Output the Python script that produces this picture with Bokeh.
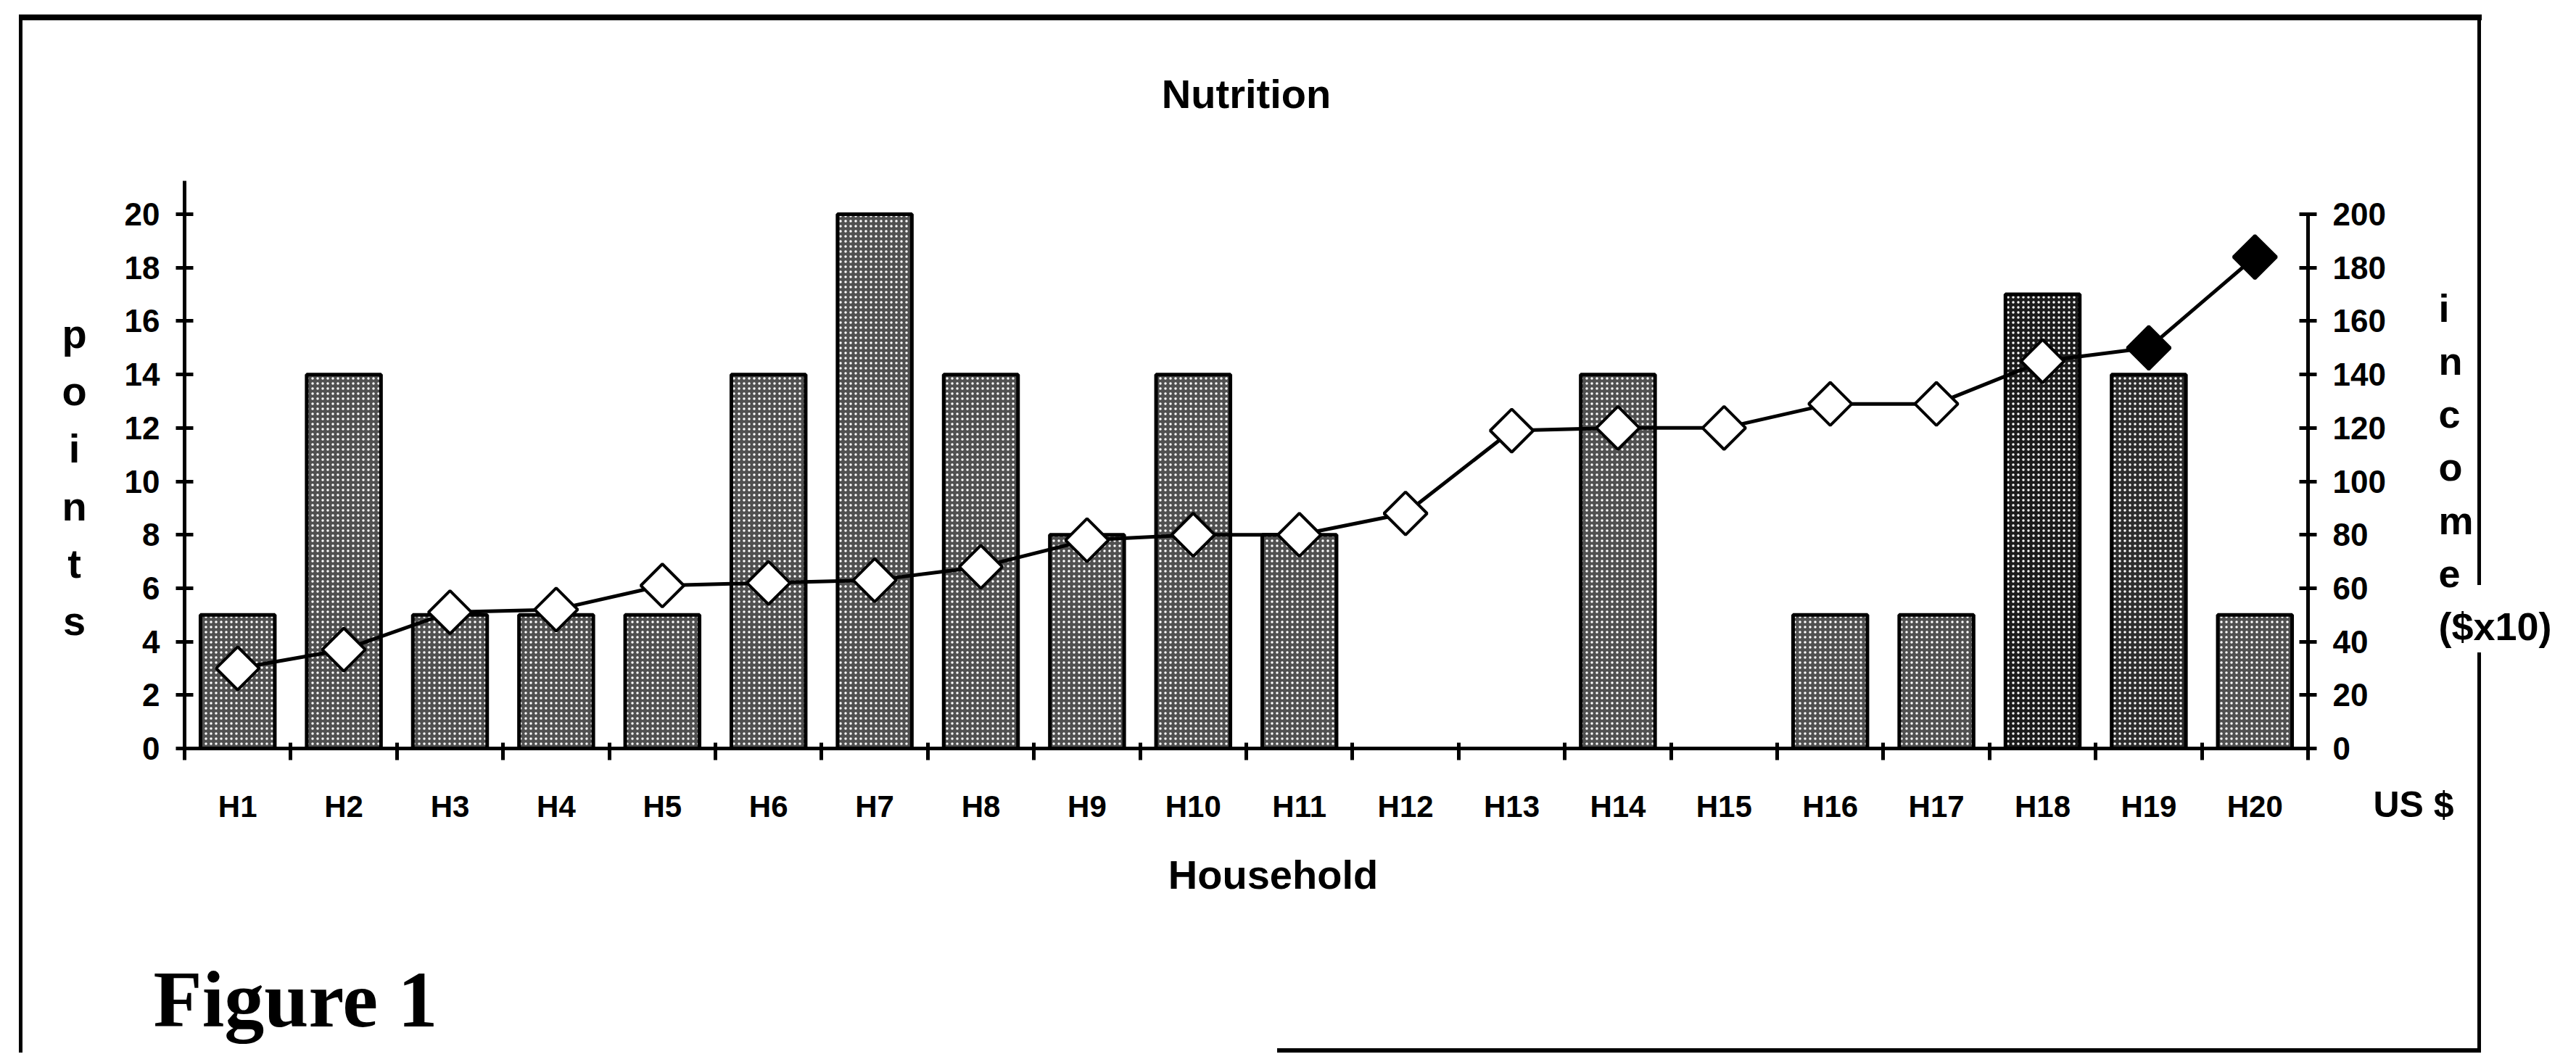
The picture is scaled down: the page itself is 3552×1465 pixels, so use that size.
from math import pi
from bokeh.plotting import figure
from bokeh.models import Range1d, LinearAxis, FixedTicker, Label, ColumnDataSource
from bokeh.embed import file_html
from bokeh.resources import INLINE

# ---------------- data ----------------
households = ["H1", "H2", "H3", "H4", "H5", "H6", "H7", "H8", "H9", "H10",
              "H11", "H12", "H13", "H14", "H15", "H16", "H17", "H18", "H19", "H20"]
points = [5, 14, 5, 5, 5, 14, 20, 14, 8, 14, 8, 0, 0, 14, 0, 5, 5, 17, 14, 5]
income = [30, 37, 51, 52, 61, 62, 63, 68, 78, 80, 80, 88, 119, 120, 120, 129, 129, 145, 150, 184]
points_ticks = [0, 2, 4, 6, 8, 10, 12, 14, 16, 18, 20]
income_ticks = [0, 20, 40, 60, 80, 100, 120, 140, 160, 180, 200]

# ---------------- layout ----------------
W, H = 3536, 1455
FL, FR, FT, FB = 254, 3182, 249, 1032
n = len(households)
xs = list(range(1, n + 1))

FONT = "Liberation Sans"

bar_fill = ["#505050"] * n
bar_fill[17] = "#1c1c1c"
bar_fill[18] = "#2e2e2e"
marker_fill = ["white"] * n
marker_fill[18] = "black"
marker_fill[19] = "black"

src = ColumnDataSource(dict(x=xs, points=points, income=income,
                            bar_fill=bar_fill, marker_fill=marker_fill))

# scanned frame box drawn as CSS background lines behind a transparent canvas
lines = [  # (left, top, width, height) in canvas px
    (26, 20, 3396, 8),
    (26, 20, 5, 1432),
    (3416, 20, 5, 787),
    (3416, 900, 5, 552),
    (1761, 1446, 1660, 6),
]
styles = {
    "background-image": ", ".join(["linear-gradient(#000, #000)"] * len(lines)),
    "background-size": ", ".join(f"{w}px {h}px" for _, _, w, h in lines),
    "background-position": ", ".join(f"{l}px {t}px" for l, t, _, _ in lines),
    "background-repeat": "no-repeat",
}

p = figure(width=W, height=H, output_backend="svg", toolbar_location=None,
           x_range=Range1d(0.5, n + 0.5), y_range=Range1d(0, 21.25),
           x_axis_type=None, y_axis_type=None,
           min_border_left=FL, min_border_right=W - FR,
           min_border_top=FT, min_border_bottom=H - FB)
p.styles = styles
p.outline_line_color = None
p.background_fill_color = "white"
p.border_fill_color = None
p.extra_y_ranges = {"income": Range1d(0, 212.5)}


def style_axis(ax, size):
    ax.axis_line_width = 5
    ax.axis_line_color = "black"
    ax.major_tick_line_width = 5
    ax.major_tick_line_color = "black"
    ax.minor_tick_line_color = None
    ax.major_label_text_font = FONT
    ax.major_label_text_font_style = "bold"
    ax.major_label_text_font_size = size
    ax.major_label_text_color = "black"


yl = LinearAxis(ticker=FixedTicker(ticks=points_ticks))
style_axis(yl, "44px")
yl.major_tick_in = 12
yl.major_tick_out = 12
yl.major_label_standoff = 22
p.add_layout(yl, "left")

yr = LinearAxis(y_range_name="income", ticker=FixedTicker(ticks=income_ticks), bounds=(0, 200))
style_axis(yr, "44px")
yr.major_tick_in = 12
yr.major_tick_out = 12
yr.major_label_standoff = 22
p.add_layout(yr, "right")

# x axis: labels at household centres, tick marks between households
xa = LinearAxis(ticker=FixedTicker(ticks=xs, minor_ticks=[i + 0.5 for i in range(n + 1)]),
                major_label_overrides={x: h for x, h in zip(xs, households)})
style_axis(xa, "42px")
xa.major_tick_line_color = None
xa.major_tick_in = 0
xa.major_tick_out = 16
xa.minor_tick_line_color = "black"
xa.minor_tick_line_width = 5
xa.minor_tick_in = 8
xa.minor_tick_out = 16
xa.major_label_standoff = 40
p.add_layout(xa, "below")

# bars
p.vbar(x="x", top="points", width=0.7, source=src, fill_color="bar_fill",
       line_color="black", line_width=5, hatch_pattern="dot", hatch_color="white",
       hatch_scale=7, hatch_weight=3)

# income line
p.line(x="x", y="income", y_range_name="income", source=src, line_color="black", line_width=5)
p.scatter(x="x", y="income", y_range_name="income", source=src, marker="square",
          angle=pi / 4, size=42, fill_color="marker_fill", line_color="black", line_width=4)


# texts (placed in side panels so they are not clipped to the plot frame)
def lab(side, text, x, y, size, align="left", baseline="middle", font=FONT, lh=1.2):
    p.add_layout(Label(text=text, x=x, y=y, x_units="canvas", y_units="canvas",
                       text_font=font, text_font_style="bold", text_font_size=size,
                       text_align=align, text_baseline=baseline, text_color="black",
                       text_line_height=lh), side)


lab("above", "Nutrition", 1718, 129, "56px", align="center")
lab("below", "Figure 1", 211, 1378, "110px", align="left", baseline="alphabetic",
    font="Liberation Serif")
lab("below", "Household", 1755, 1206, "56px", align="center")
lab("below", "US $", 3272, 1109, "50px", align="left")
lab("left", "p\no\ni\nn\nt\ns", 102, 658, "56px", align="center", lh=1.26)
lab("right", "i\nn\nc\no\nm\ne\n($x10)", 3362, 644, "54px", align="left", lh=1.22)

open("out.html", "w").write(file_html(p, INLINE))
